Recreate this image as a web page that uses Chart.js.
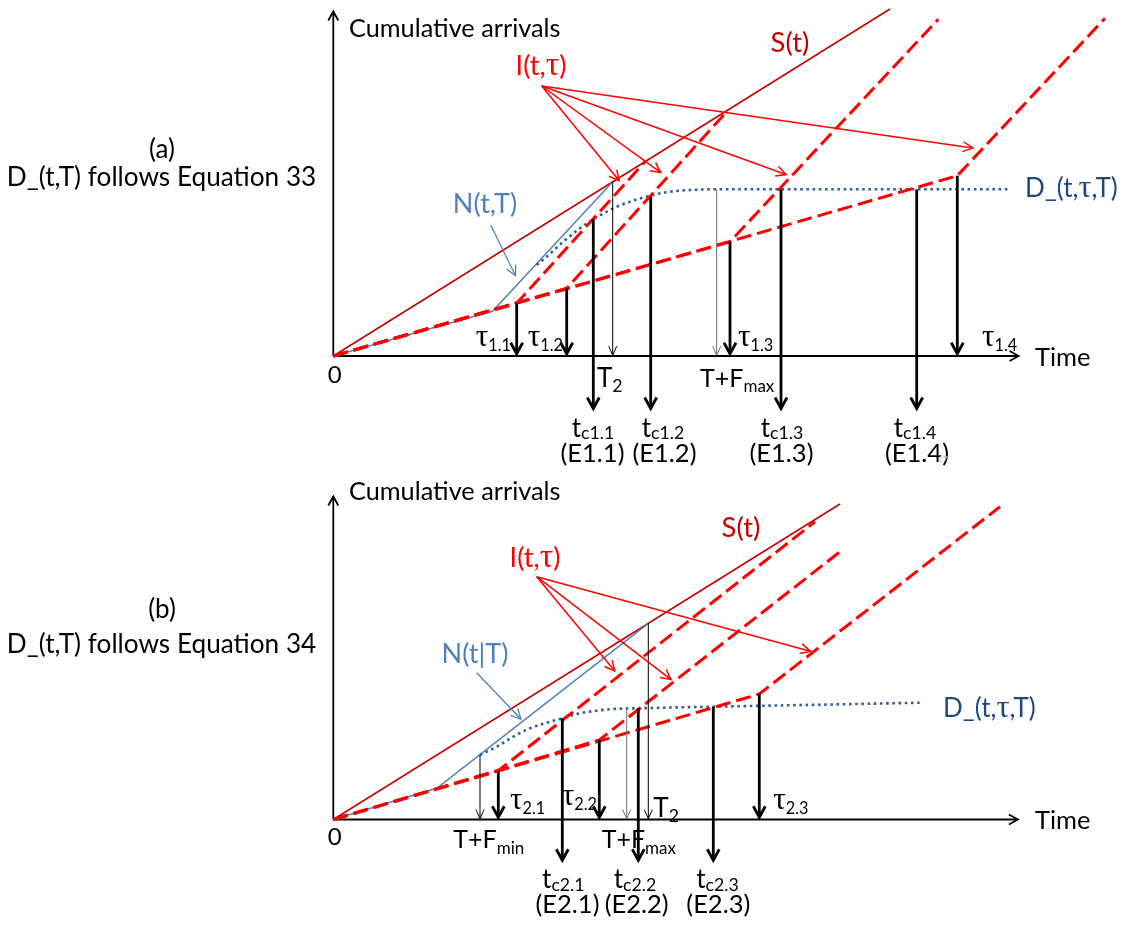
<!DOCTYPE html>
<html>
<head>
<meta charset="utf-8">
<script src="https://cdn.jsdelivr.net/npm/chart.js@4.4.1/dist/chart.umd.min.js"></script>
<style>
  html, body { margin: 0; padding: 0; background: #ffffff; }
  #wrap { position: relative; width: 1122px; height: 926px; overflow: hidden; }
  canvas { position: absolute; left: 0; }
  #chartA { top: 0; }
  #chartB { top: 470px; }
</style>
</head>
<body>
<div id="wrap">
  <canvas id="chartA" width="1122" height="470"></canvas>
  <canvas id="chartB" width="1122" height="456"></canvas>
</div>
<script>
// ---------- Panel (a): D_(t,T) follows Equation 33 ----------
const aSupply   = [[0, 0], [55.67, 34.7]];                       // S(t)
const aNPath    = [[0, 0], [15.94, 4.5], [27.94, 17.43]];        // N(t,T)
const aTau      = [18.34, 23.34, 39.67, 62.4];                   // tau_1.1 .. tau_1.4
const aTauLevel = [5.27, 6.77, 11.43, 18.03];                    // cumulative count at each tau
const aIEnd     = [[31.17, 19.43], [39.34, 24.43], [60.5, 33.67], [77.17, 33.77]];
const aDCurve   = [[20.34, 9.1], [21.34, 9.93], [23.0, 11.43], [24.67, 12.77], [26.0, 13.67],
                   [28.0, 14.77], [29.67, 15.43], [31.34, 15.93], [33.0, 16.33], [34.67, 16.53],
                   [36.34, 16.63], [38.0, 16.67], [67.5, 16.67]]; // D_(t,tau,T)
const aTc       = [26.0, 31.74, 44.77, 58.34];                   // t_c1.1 .. t_c1.4
const aTcLevel  = [13.67, 15.93, 16.67, 16.67];
const aTcFoot   = -5.47;
const aT2       = [27.94, 17.43];
const aTFmax    = [38.34, 16.67];
const aAxisEnd  = [68.67, 34.6];
const aIFrom    = [20.84, 27.0];
const aITo      = [[28.67, 17.43], [32.84, 18.27], [45.4, 18.1], [64.07, 20.77]];
const aNArrow   = [[15.74, 13.1], [18.27, 7.93]];

// ---------- Panel (b): D_(t,T) follows Equation 34 ----------
const bSupply   = [[0, 0], [50.67, 31.55]];
const bNPath    = [[0, 0], [10.34, 3.12], [31.5, 19.62]];        // N(t|T)
const bTau      = [16.5, 26.6, 42.6];                            // tau_2.1 .. tau_2.3
const bTauLevel = [4.88, 7.95, 12.55];
const bIEnd     = [[48.17, 29.78], [50.67, 26.78], [66.67, 31.28]];
const bDCurve   = [[14.67, 6.45], [16.34, 7.28], [18.0, 8.28], [19.67, 9.12], [21.34, 9.68],
                   [22.9, 10.12], [24.67, 10.62], [26.34, 10.88], [28.0, 11.05], [30.5, 11.12],
                   [34.67, 11.22], [38.0, 11.28], [59.0, 11.68]];
const bTc       = [22.9, 30.5, 38.0];                            // t_c2.1 .. t_c2.3
const bTcLevel  = [10.12, 11.12, 11.28];
const bTcFoot   = -4.3;
const bT2       = [31.5, 19.62];
const bTFmin    = [14.67, 6.45];
const bTFmax    = [29.34, 11.18];
const bAxisEnd  = [68.6, 32.45];
const bIFrom    = [20.34, 24.28];
const bITo      = [[28.22, 14.75], [33.87, 13.92], [47.84, 16.78]];
const bNArrow   = [[14.34, 14.68], [18.84, 9.95]];

// ---------- text ----------
const aLabels = [
  { t: '(a)', x: -17.13, y: 19.8, al: 'center', s: 26 },
  { t: 'D_(t,T) follows Equation 33', x: -17.18, y: 17.0, al: 'center', s: 26.2 },
  { t: 'Cumulative arrivals', x: 1.57, y: 31.93, s: 25.3 },
  { t: 'S(t)', x: 45.67, y: 30.43, al: 'center', s: 27.4, c: '#C00000' },
  { t: 'I(t,τ)', x: 20.77, y: 28.1, al: 'center', s: 27, c: '#FF0000' },
  { t: 'N(t,T)', x: 15.17, y: 14.27, al: 'center', s: 27, c: '#4F81BD' },
  { t: 'D_(t,τ,T)', x: 69.17, y: 15.93, s: 26, c: '#1F497D' },
  { t: '0', x: 0.14, y: -2.73, al: 'center', s: 24 },
  { t: 'Time', x: 70.17, y: -1.0, s: 25.5 },
  { t: 'τ_{1.1}', x: 17.77, y: 1.0, s: 24, g: 1.3, al: 'right' },
  { t: 'τ_{1.2}', x: 22.97, y: 1.0, s: 24, g: 1.3, al: 'right' },
  { t: 'τ_{1.3}', x: 40.47, y: 1.0, s: 24, g: 1.3 },
  { t: 'τ_{1.4}', x: 64.87, y: 1.0, s: 24, g: 1.3 },
  { t: 'T_{2}', x: 26.37, y: -3.07, s: 26 },
  { t: 'T+F_{max}', x: 36.67, y: -3.07, s: 25 },
  { t: 't_{c1.1}', x: 25.97, y: -8.07, al: 'center', s: 26, so: 0.1 },
  { t: 't_{c1.2}', x: 32.97, y: -8.07, al: 'center', s: 26, so: 0.1 },
  { t: 't_{c1.3}', x: 44.87, y: -8.07, al: 'center', s: 26, so: 0.1 },
  { t: 't_{c1.4}', x: 58.17, y: -8.07, al: 'center', s: 26, so: 0.1 },
  { t: '(E1.1)', x: 25.92, y: -10.57, al: 'center', s: 25.5 },
  { t: '(E1.2)', x: 33.12, y: -10.57, al: 'center', s: 25.5 },
  { t: '(E1.3)', x: 44.82, y: -10.57, al: 'center', s: 25.5 },
  { t: '(E1.4)', x: 58.37, y: -10.57, al: 'center', s: 25.5 },
  { t: '17', x: 60.97, y: -10.6, al: 'center', s: 8, c: '#bdbdbd' }
];
const bLabels = [
  { t: '(b)', x: -17.13, y: 20.15, al: 'center', s: 26 },
  { t: 'D_(t,T) follows Equation 34', x: -17.18, y: 16.65, al: 'center', s: 26.2 },
  { t: 'Cumulative arrivals', x: 1.57, y: 31.95, s: 25.3 },
  { t: 'S(t)', x: 40.77, y: 28.28, al: 'center', s: 27.4, c: '#C00000' },
  { t: 'I(t,τ)', x: 20.17, y: 25.22, al: 'center', s: 27, c: '#FF0000' },
  { t: 'N(t|T)', x: 14.17, y: 15.62, al: 'center', s: 27, c: '#4F81BD' },
  { t: 'D_(t,τ,T)', x: 60.97, y: 10.28, s: 26, c: '#1F497D' },
  { t: '0', x: 0.14, y: -2.55, al: 'center', s: 24 },
  { t: 'Time', x: 70.17, y: -0.98, s: 25.5 },
  { t: 'τ_{2.1}', x: 17.67, y: 1.05, s: 24, g: 1.3 },
  { t: 'τ_{2.2}', x: 26.37, y: 1.45, s: 24, g: 1.3, al: 'right' },
  { t: 'τ_{2.3}', x: 44.0, y: 1.05, s: 24, g: 1.3 },
  { t: 'T_{2}', x: 32.0, y: 0.28, s: 26 },
  { t: 'T+F_{min}', x: 12.0, y: -2.85, s: 25 },
  { t: 'T+F_{max}', x: 26.84, y: -2.85, s: 25 },
  { t: 't_{c2.1}', x: 23.0, y: -6.85, al: 'center', s: 26, so: 0.1 },
  { t: 't_{c2.2}', x: 30.17, y: -6.85, al: 'center', s: 26, so: 0.1 },
  { t: 't_{c2.3}', x: 38.42, y: -6.85, al: 'center', s: 26, so: 0.1 },
  { t: '(E2.1)', x: 23.42, y: -9.38, al: 'center', s: 25.5 },
  { t: '(E2.2)', x: 30.34, y: -9.38, al: 'center', s: 25.5 },
  { t: '(E2.3)', x: 38.5, y: -9.38, al: 'center', s: 25.5 }
];

// ---------- drawing helpers ----------
const SANS  = "Lato, 'Open Sans', 'Noto Sans', sans-serif";
const SERIF = "'Liberation Serif', 'DejaVu Serif', serif";

// Split "τ_{1.1}" style strings into runs: subscript parts and serif Greek letters.
function parseRich(str) {
  const parts = [];
  const re = /_\{([^}]*)\}/g;
  let last = 0, m;
  while ((m = re.exec(str))) {
    if (m.index > last) parts.push({ t: str.slice(last, m.index), sub: false });
    parts.push({ t: m[1], sub: true });
    last = re.lastIndex;
  }
  if (last < str.length) parts.push({ t: str.slice(last), sub: false });
  const runs = [];
  parts.forEach(p => {
    let buf = '';
    for (const ch of p.t) {
      if (ch === 'τ') {
        if (buf) runs.push({ t: buf, sub: p.sub, g: false });
        buf = '';
        runs.push({ t: ch, sub: p.sub, g: true });
      } else buf += ch;
    }
    if (buf) runs.push({ t: buf, sub: p.sub, g: false });
  });
  return runs;
}
function runFont(r, size, gScale) {
  const s = r.sub ? size * 0.68 : size;
  return r.g ? (s * gScale).toFixed(1) + 'px ' + SERIF : s.toFixed(1) + 'px ' + SANS;
}
function drawRich(ctx, x, y, str, size, color, align, gScale, subOff) {
  const runs = parseRich(str);
  let w = 0;
  runs.forEach(r => { ctx.font = runFont(r, size, gScale); r.w = ctx.measureText(r.t).width; w += r.w; });
  let cx = align === 'center' ? x - w / 2 : align === 'right' ? x - w : x;
  ctx.save();
  ctx.fillStyle = color;
  ctx.textAlign = 'left';
  ctx.textBaseline = 'alphabetic';
  runs.forEach(r => {
    ctx.font = runFont(r, size, gScale);
    ctx.fillText(r.t, cx, y + (r.sub ? size * subOff : 0));
    cx += r.w;
  });
  ctx.restore();
}
function arrow(ctx, x1, y1, x2, y2, o) {
  const a = Math.atan2(y2 - y1, x2 - x1), c = Math.cos(a), s = Math.sin(a);
  ctx.save();
  ctx.strokeStyle = o.color;
  ctx.lineWidth = o.lw;
  ctx.lineCap = 'butt';
  ctx.lineJoin = 'miter';
  ctx.beginPath();
  ctx.moveTo(x1, y1);
  ctx.lineTo(x2 - c * o.lw, y2 - s * o.lw);
  ctx.stroke();
  const tx = x2 - c * o.lw * 0.8, ty = y2 - s * o.lw * 0.8;
  const bx = tx - c * o.len, by = ty - s * o.len;
  ctx.beginPath();
  ctx.moveTo(bx - s * o.half, by + c * o.half);
  ctx.lineTo(tx, ty);
  ctx.lineTo(bx + s * o.half, by - c * o.half);
  ctx.stroke();
  ctx.restore();
}

const THICK = { color: '#000000', lw: 2.8, len: 11, half: 6 };
const THIN  = { color: '#000000', lw: 1, len: 9, half: 4 };
const GREY  = { color: '#6f6f6f', lw: 1, len: 9, half: 4 };
const AXIS  = { color: '#000000', lw: 1.8, len: 9, half: 5 };
const RED   = { color: '#FF0000', lw: 1.5, len: 10, half: 5 };
const BLUE  = { color: '#4F81BD', lw: 1.3, len: 10, half: 5 };

// Axes, drop lines, pointers and text for one panel, placed through the chart scales.
function panelPlugin(spec) {
  return {
    id: 'panelDecor',
    beforeDatasetsDraw(chart) {
      const ctx = chart.ctx, X = chart.scales.x, Y = chart.scales.y;
      const px = v => X.getPixelForValue(v), py = v => Y.getPixelForValue(v);
      arrow(ctx, px(0), py(0), px(spec.axisEnd[0]), py(0), AXIS);
      arrow(ctx, px(0), py(0), px(0), py(spec.axisEnd[1]), AXIS);
    },
    afterDatasetsDraw(chart) {
      const ctx = chart.ctx, X = chart.scales.x, Y = chart.scales.y;
      const px = v => X.getPixelForValue(v), py = v => Y.getPixelForValue(v);
      spec.drops.forEach(d => arrow(ctx, px(d.x), py(d.from), px(d.x), py(d.to), d.style));
      spec.pointers.forEach(p => arrow(ctx, px(p.from[0]), py(p.from[1]), px(p.to[0]), py(p.to[1]), p.style));
      spec.labels.forEach(l => drawRich(ctx, px(l.x), py(l.y), l.t, l.s || 24, l.c || '#000000',
        l.al || 'left', l.g || 1.25, l.so !== undefined ? l.so : 0.22));
    }
  };
}

const pts = arr => arr.map(p => ({ x: p[0], y: p[1] }));
function lineSet(data, color, width, dash, extra) {
  return Object.assign({
    data: pts(data), showLine: true, borderColor: color, borderWidth: width,
    borderDash: dash || [], pointRadius: 0, pointHoverRadius: 0, fill: false,
    tension: 0, clip: false, borderCapStyle: 'butt', borderJoinStyle: 'miter'
  }, extra || {});
}

function buildPanel(canvasId, d) {
  // I(t,tau_i): the common departure envelope up to tau_i, then the steeper branch
  const iSets = d.tau.map((t, i) => lineSet([[0, 0], [t, d.tauLevel[i]], d.iEnd[i]], '#FF0000', 3, [15, 6]));
  const datasets = [
    ...iSets,
    lineSet(d.dCurve, '#2F5F98', 2.6, [2.6, 3.6], { cubicInterpolationMode: 'monotone' }),
    lineSet(d.nPath, '#4F81BD', 1.5),
    lineSet(d.supply, '#C00000', 1.5)
  ];
  const drops = [];
  d.tau.forEach((t, i) => drops.push({ x: t, from: d.tauLevel[i], to: 0, style: THICK }));
  d.tc.forEach((t, i) => drops.push({ x: t, from: d.tcLevel[i], to: d.tcFoot, style: THICK }));
  d.thin.forEach(m => drops.push({ x: m.p[0], from: m.p[1], to: 0, style: m.style }));
  const pointers = d.iTo.map(p => ({ from: d.iFrom, to: p, style: RED }));
  pointers.push({ from: d.nArrow[0], to: d.nArrow[1], style: BLUE });

  return new Chart(document.getElementById(canvasId), {
    type: 'scatter',
    data: { datasets },
    options: {
      responsive: false,
      animation: false,
      devicePixelRatio: 1,
      events: [],
      layout: { padding: d.padding },
      scales: {
        x: { type: 'linear', min: 0, max: 78, display: false },
        y: { type: 'linear', min: 0, max: d.yMax, display: false }
      },
      plugins: { legend: { display: false }, tooltip: { enabled: false } }
    },
    plugins: [panelPlugin({ axisEnd: d.axisEnd, drops, pointers, labels: d.labels })]
  });
}

buildPanel('chartA', {
  supply: aSupply, nPath: aNPath, tau: aTau, tauLevel: aTauLevel, iEnd: aIEnd, dCurve: aDCurve,
  tc: aTc, tcLevel: aTcLevel, tcFoot: aTcFoot,
  thin: [{ p: aT2, style: THIN }, { p: aTFmax, style: GREY }],
  axisEnd: aAxisEnd, iFrom: aIFrom, iTo: aITo, nArrow: aNArrow, labels: aLabels,
  yMax: 35, padding: { left: 333.3, right: 8.7, top: 6, bottom: 114 }
});
buildPanel('chartB', {
  supply: bSupply, nPath: bNPath, tau: bTau, tauLevel: bTauLevel, iEnd: bIEnd, dCurve: bDCurve,
  tc: bTc, tcLevel: bTcLevel, tcFoot: bTcFoot,
  thin: [{ p: bTFmin, style: THIN }, { p: bTFmax, style: GREY }, { p: bT2, style: THIN }],
  axisEnd: bAxisEnd, iFrom: bIFrom, iTo: bITo, nArrow: bNArrow, labels: bLabels,
  yMax: 34, padding: { left: 333.3, right: 8.7, top: 9.5, bottom: 106.5 }
});
</script>
</body>
</html>
